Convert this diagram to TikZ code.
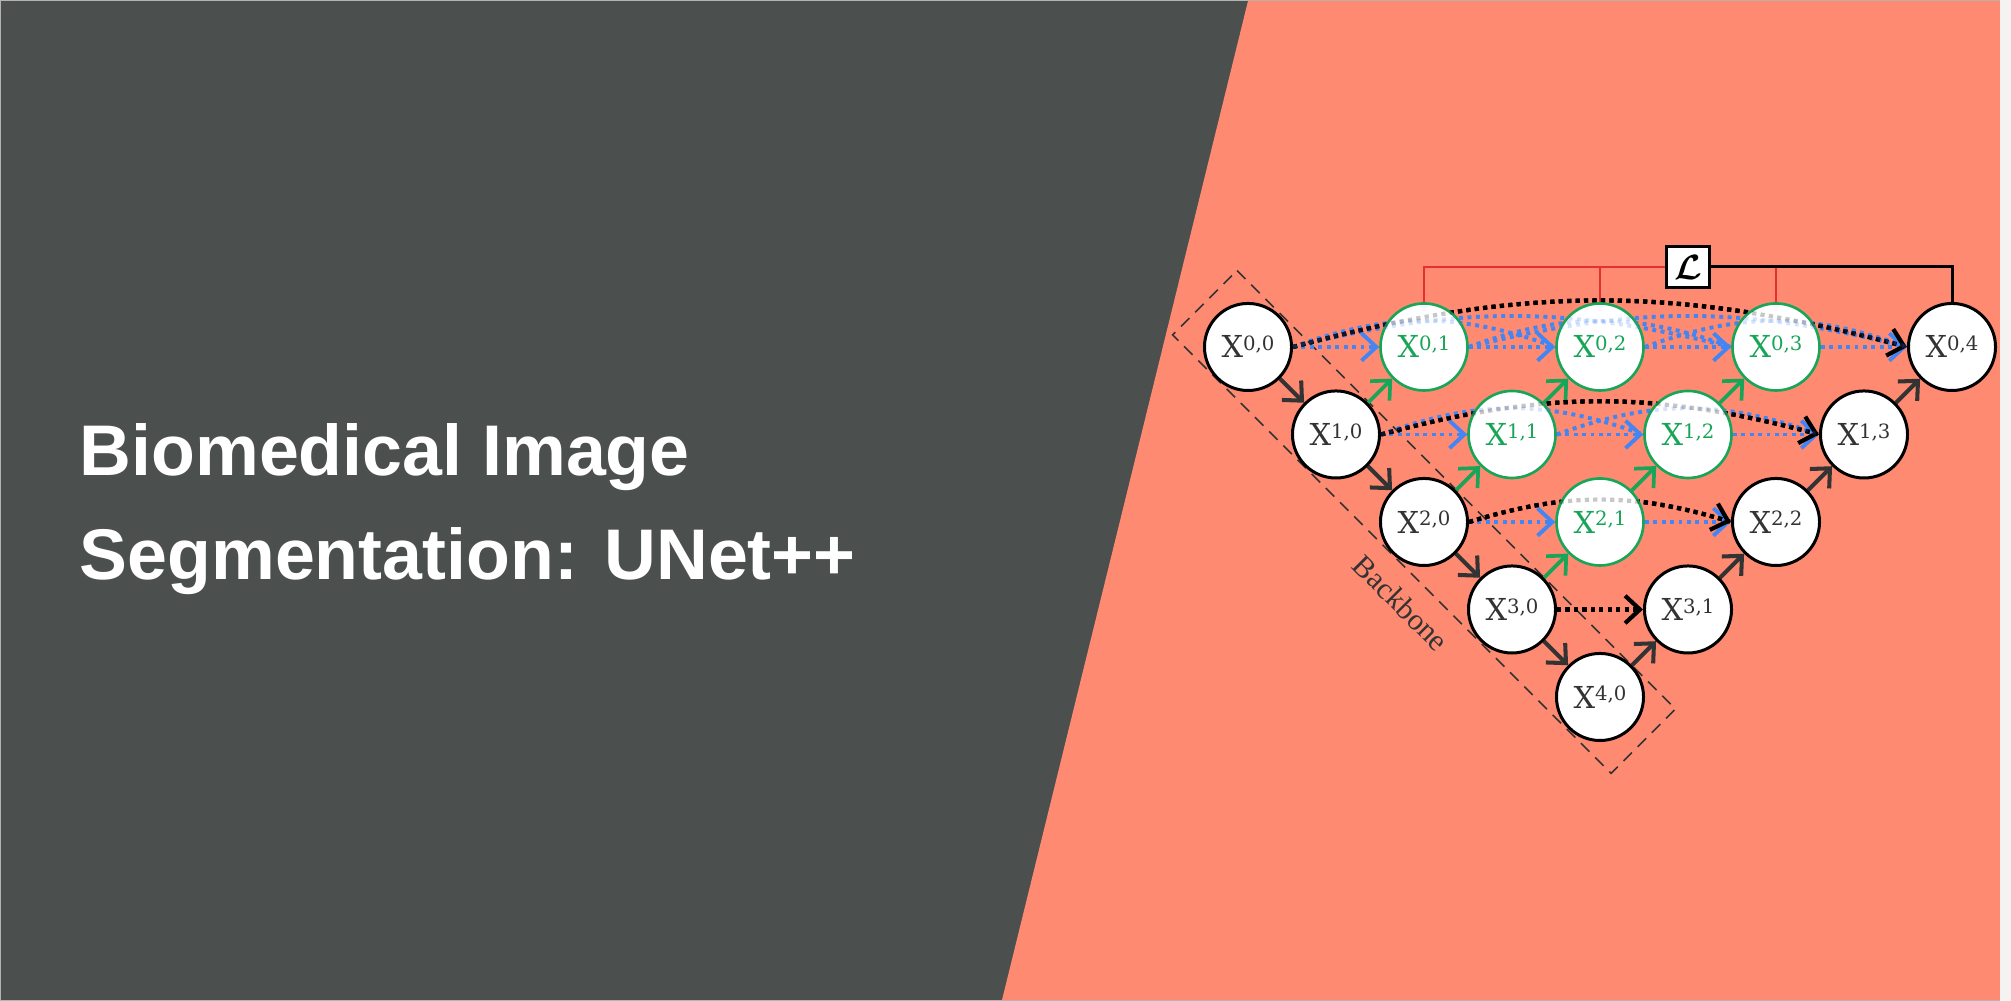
\documentclass[tikz,border=0pt]{standalone}
\usepackage{amsmath}
\usepackage{fontspec}
\setmainfont{Liberation Serif}
\newfontfamily\titlefont{Liberation Sans}
\newfontfamily\labelfont{DejaVu Serif}
\usetikzlibrary{arrows.meta,calc}

\definecolor{slate}{RGB}{75,79,78}
\definecolor{salmon}{RGB}{255,138,114}
\definecolor{netgreen}{RGB}{24,165,88}
\definecolor{skipblue}{RGB}{66,133,244}
\definecolor{lossred}{RGB}{228,48,48}
\definecolor{ink}{RGB}{51,51,51}
\definecolor{frame}{RGB}{180,180,180}
\definecolor{strip}{RGB}{245,243,242}

\pgfdeclarelayer{panels}
\pgfdeclarelayer{edges}
\pgfdeclarelayer{ghost}
\pgfsetlayers{panels,edges,main,ghost}

% node label X^{i,j}
\newcommand\xl[1]{X\raisebox{2.1pt}{\fontsize{5.6}{6}\selectfont #1}}
\newcommand\losssym{$\boldsymbol{\mathcal{L}}$}

% dense skip arcs, drawn once solid and once faded over the nodes
\newcommand\skiparcs[1]{%
  % row 0
  \draw[bskip,#1] (X00.east) to[out=20,in=160] (X02.west);
  \draw[bskip,#1] (X01.east) to[out=20,in=160] (X03.west);
  \draw[bskip,#1] (X02.east) to[out=20,in=160] (X04.west);
  \draw[bskip,#1] (X00.east) to[out=14,in=166] (X03.west);
  \draw[bskip,#1] (X01.east) to[out=14,in=166] (X04.west);
  \draw[kskip,#1] (X00.east) to[out=15,in=165] (X04.west);
  % row 1
  \draw[bskip,#1] (X10.east) to[out=20,in=160] (X12.west);
  \draw[bskip,#1] (X11.east) to[out=20,in=160] (X13.west);
  \draw[kskip,#1] (X10.east) to[out=15,in=165] (X13.west);
  % row 2
  \draw[kskip,#1] (X20.east) to[out=17,in=163] (X22.west);
}

\begin{document}
\begin{tikzpicture}[x=0.01cm,y=0.01cm,
  tipshape/.style={-{Straight Barb[length=4.2pt,width=7.8pt]}},
  plain/.style={circle, draw=black, line width=0.85pt, fill=white,
    minimum size=0.87cm, inner sep=0pt, text=ink,
    font=\labelfont\fontsize{8.6}{9}\selectfont},
  nest/.style={plain, draw=netgreen, line width=0.75pt, text=netgreen},
  down/.style={draw=ink, line width=1.15pt, tipshape},
  up/.style={draw=ink, line width=1.15pt, tipshape},
  gup/.style={draw=netgreen, line width=1.05pt, tipshape},
  bskip/.style={draw=skipblue, line width=1.1pt, dash pattern=on 1.1pt off 1.3pt},
  bstraight/.style={bskip, tipshape},
  kskip/.style={draw=black, line width=1.2pt, dash pattern=on 1.2pt off 1.2pt},
  kskiparrow/.style={kskip, tipshape},
  lossbox/.style={draw=black, line width=0.9pt, fill=white,
    minimum width=0.43cm, minimum height=0.41cm, inner sep=0pt},
  redline/.style={draw=lossred, line width=0.5pt},
  blackline/.style={draw=black, line width=0.85pt},
  bbox/.style={draw=ink, line width=0.45pt, dash pattern=on 3.4pt off 2.3pt},
  title/.style={anchor=base west, inner sep=0pt, text=white,
    font=\titlefont\bfseries\fontsize{20.4}{24}\selectfont}
]
\useasboundingbox (0,0) rectangle (2011,1001);

% background panels
\begin{pgfonlayer}{panels}
  \fill[frame] (0,0) rectangle (2011,1001);
  \fill[slate] (1,1) rectangle (2000,1000);
  \fill[salmon] (1248,1000) -- (2000,1000) -- (2000,1) -- (1002,1) -- cycle;
  \fill[strip] (2000,0) rectangle (2011,1001);
\end{pgfonlayer}

% title
\node[title] (t1) at (79,525) {Biomedical Image};
\node[title] (t2) at (79,421) {Segmentation: UNet++};

% nodes
\node[plain] (X00) at (1248,654) {\xl{0,0}};
\node[nest]  (X01) at (1424,654) {\xl{0,1}};
\node[nest]  (X02) at (1600,654) {\xl{0,2}};
\node[nest]  (X03) at (1776,654) {\xl{0,3}};
\node[plain] (X04) at (1952,654) {\xl{0,4}};
\node[plain] (X10) at (1336,566.5) {\xl{1,0}};
\node[nest]  (X11) at (1512,566.5) {\xl{1,1}};
\node[nest]  (X12) at (1688,566.5) {\xl{1,2}};
\node[plain] (X13) at (1864,566.5) {\xl{1,3}};
\node[plain] (X20) at (1424,479) {\xl{2,0}};
\node[nest]  (X21) at (1600,479) {\xl{2,1}};
\node[plain] (X22) at (1776,479) {\xl{2,2}};
\node[plain] (X30) at (1512,391.5) {\xl{3,0}};
\node[plain] (X31) at (1688,391.5) {\xl{3,1}};
\node[plain] (X40) at (1600,304) {\xl{4,0}};

% loss box
\node[lossbox] (loss) at (1688,734) {\losssym};

\begin{pgfonlayer}{edges}
  % backbone frame (a rectangle tilted by 45 degrees around X20) and its label
  \draw[bbox] ($(X20)+(-187,251.4)$) -- ($(X20)+(251.4,-187)$)
    -- ($(X20)+(187,-251.4)$) -- ($(X20)+(-251.4,187)$) -- cycle;
  \node[rotate=-45, text=ink, font=\fontsize{8.6}{10}\selectfont] (bbl) at (1401,398) {Backbone};

  % deep supervision lines
  \draw[redline] (X01.north) |- (loss.west);
  \draw[redline] (X02.north) -- (X02.north |- loss.west);
  \draw[redline] (X03.north) -- (X03.north |- loss.east);
  \draw[blackline] (loss.east) -| (X04.north);

  % encoder
  \draw[down] (X00) -- (X10);
  \draw[down] (X10) -- (X20);
  \draw[down] (X20) -- (X30);
  \draw[down] (X30) -- (X40);

  % nested up-sampling
  \draw[gup] (X10) -- (X01);
  \draw[gup] (X20) -- (X11);
  \draw[gup] (X11) -- (X02);
  \draw[gup] (X30) -- (X21);
  \draw[gup] (X21) -- (X12);
  \draw[gup] (X12) -- (X03);

  % decoder
  \draw[up] (X40) -- (X31);
  \draw[up] (X31) -- (X22);
  \draw[up] (X22) -- (X13);
  \draw[up] (X13) -- (X04);

  % straight skip connections
  \draw[bstraight] (X00) -- (X01);
  \draw[bstraight] (X01) -- (X02);
  \draw[bstraight] (X02) -- (X03);
  \draw[bstraight] (X03) -- (X04);
  \draw[bstraight] (X10) -- (X11);
  \draw[bstraight] (X11) -- (X12);
  \draw[bstraight] (X12) -- (X13);
  \draw[bstraight] (X20) -- (X21);
  \draw[bstraight] (X21) -- (X22);
  \draw[kskiparrow] (X30) -- (X31);

  % arcs
  \skiparcs{}
  \draw[kskiparrow] (X00.east) to[out=15,in=165] (X04.west);
  \draw[kskiparrow] (X10.east) to[out=15,in=165] (X13.west);
  \draw[kskiparrow] (X20.east) to[out=17,in=163] (X22.west);
\end{pgfonlayer}

\begin{pgfonlayer}{ghost}
  \skiparcs{opacity=0.22}
\end{pgfonlayer}
\end{tikzpicture}
\end{document}
